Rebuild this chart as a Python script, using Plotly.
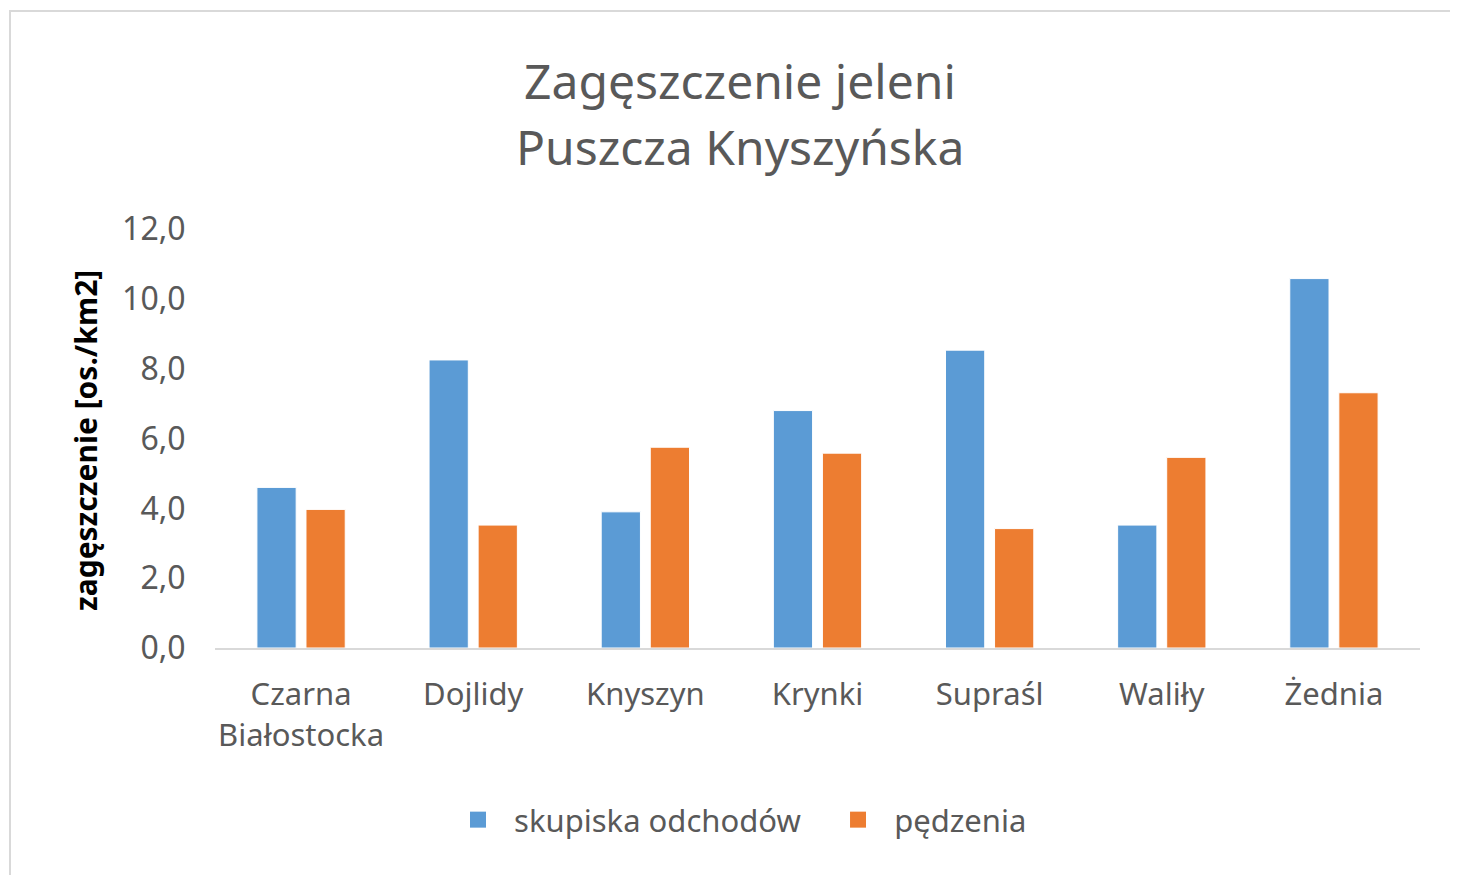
import plotly.graph_objects as go

categories = ["Czarna<br>Białostocka", "Dojlidy", "Knyszyn", "Krynki", "Supraśl", "Waliły", "Żednia"]
skupiska = [4.6, 8.25, 3.9, 6.8, 8.53, 3.52, 10.58]
pedzenia = [3.97, 3.52, 5.75, 5.58, 3.42, 5.46, 7.31]
yticks = [0, 2, 4, 6, 8, 10, 12]
ytick_labels = ["0,0", "2,0", "4,0", "6,0", "8,0", "10,0", "12,0"]
title_lines = ["Zagęszczenie jeleni", "Puszcza Knyszyńska"]
series_names = ["skupiska odchodów", "pędzenia"]

FONT = "Noto Sans"
GRAY = "#595959"
BLUE = "#5B9BD5"
ORANGE = "#ED7D31"
NB = "\u00a0"

OFF = 8  # page body margin
W, H = 1458 - OFF, 875 - OFF
L = 215 - OFF
T = 229 - OFF
R = 1458 - 1420
B = 875 - 648
pw, ph = W - L - R, H - T - B

def px_x(x):  # reference screen x -> paper
    return (x - OFF - L) / pw

def px_y(y):  # reference screen y -> paper
    return (H - B - (y - OFF)) / ph

fig = go.Figure()
fig.add_trace(go.Bar(x=categories, y=skupiska, name=series_names[0], showlegend=False,
                     marker=dict(color=BLUE, line=dict(color="#ffffff", width=1))))
fig.add_trace(go.Bar(x=categories, y=pedzenia, name=series_names[1], showlegend=False,
                     marker=dict(color=ORANGE, line=dict(color="#ffffff", width=1))))
# legend entries
fig.add_trace(go.Scatter(x=[None], y=[None], mode="markers",
                         name=NB * 2 + series_names[0] + NB * 4,
                         marker=dict(symbol="square", size=19, color=BLUE)))
fig.add_trace(go.Scatter(x=[None], y=[None], mode="markers",
                         name=NB * 2 + series_names[1],
                         marker=dict(symbol="square", size=19, color=ORANGE)))

fig.update_layout(
    width=W, height=H,
    margin=dict(l=L, r=R, t=T, b=B, autoexpand=False),
    paper_bgcolor="white", plot_bgcolor="white",
    font=dict(family=FONT, color=GRAY),
    barmode="group", bargap=0.43, bargroupgap=0.2,
    showlegend=True,
    legend=dict(orientation="h", x=px_x(745), xanchor="center",
                y=px_y(820), yanchor="middle",
                font=dict(family=FONT, size=31, color=GRAY),
                itemwidth=30, tracegroupgap=0,
                bgcolor="rgba(0,0,0,0)"),
    xaxis=dict(showline=True, linecolor="#d9d9d9", linewidth=2,
               ticks="outside", ticklen=18, tickcolor="rgba(0,0,0,0)",
               tickfont=dict(family=FONT, size=31, color=GRAY),
               showgrid=False, zeroline=False, automargin=False),
    yaxis=dict(range=[0, 12], tickvals=yticks, ticktext=ytick_labels,
               showgrid=False, zeroline=False, showline=False,
               ticks="outside", ticklen=22, tickcolor="rgba(0,0,0,0)",
               tickfont=dict(family=FONT, size=32, color=GRAY),
               automargin=False),
    annotations=[
        dict(text="<b>zagęszczenie [os./km2]</b>", textangle=-90,
             xref="paper", yref="paper", x=px_x(85), y=px_y(441),
             xanchor="center", yanchor="middle", showarrow=False,
             font=dict(family=FONT, size=30, color="#000000")),
        dict(text=title_lines[0], xref="paper", yref="paper",
             x=px_x(740), y=px_y(80), xanchor="center", yanchor="middle",
             showarrow=False, font=dict(family=FONT, size=48, color=GRAY)),
        dict(text=title_lines[1], xref="paper", yref="paper",
             x=px_x(740), y=px_y(147), xanchor="center", yanchor="middle",
             showarrow=False, font=dict(family=FONT, size=48, color=GRAY)),
    ],
    shapes=[dict(type="rect", xref="paper", yref="paper",
                 x0=px_x(10), x1=px_x(1470),
                 y0=px_y(885), y1=px_y(11),
                 line=dict(color="#d9d9d9", width=2), fillcolor="rgba(0,0,0,0)",
                 layer="below")],
)

fig.write_html("out.html")
